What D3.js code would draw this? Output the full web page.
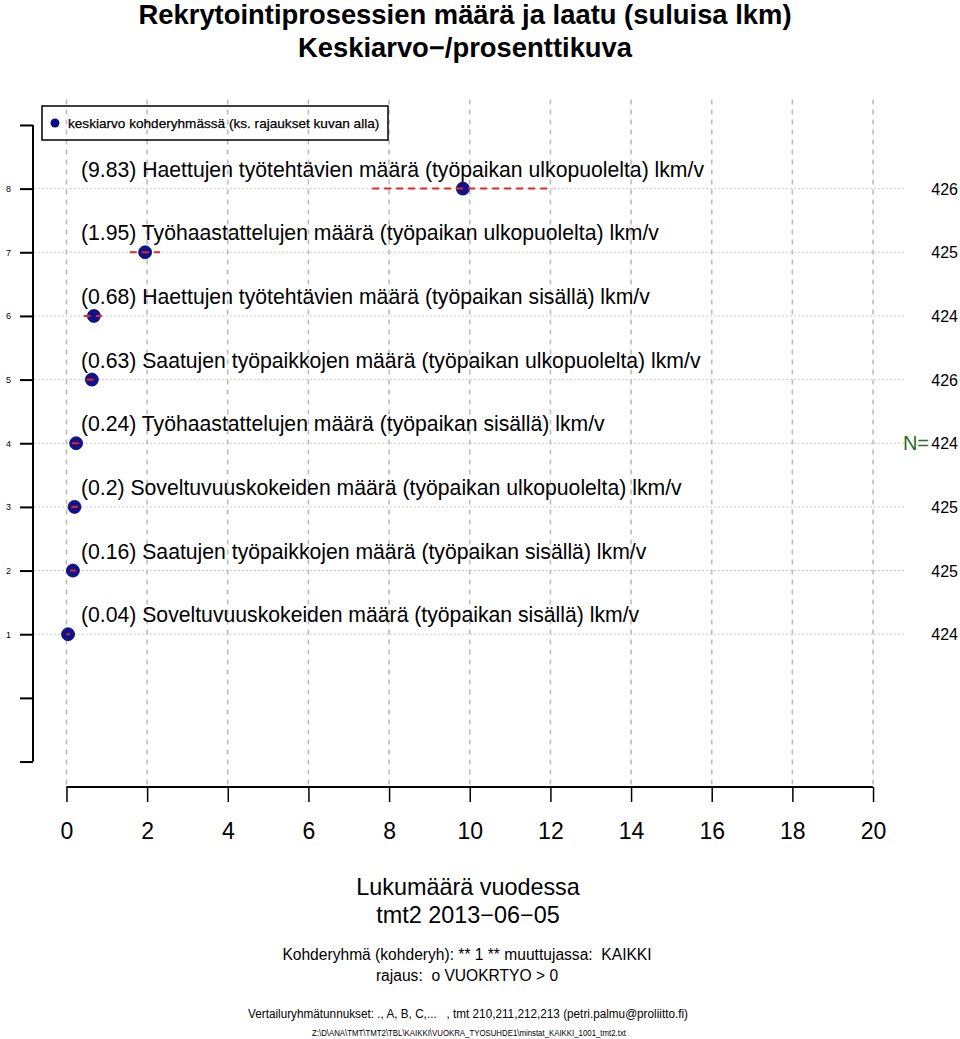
<!DOCTYPE html>
<html><head><meta charset="utf-8">
<script src="https://cdn.jsdelivr.net/npm/d3@7"></script>
<style>body{margin:0;background:#fff}svg{display:block;font-family:"Liberation Sans",Arial,sans-serif}</style>
</head><body><div id="chart"></div>
<script>
const labels = [
  "(9.83) Haettujen työtehtävien määrä (työpaikan ulkopuolelta) lkm/v",
  "(1.95) Työhaastattelujen määrä (työpaikan ulkopuolelta) lkm/v",
  "(0.68) Haettujen työtehtävien määrä (työpaikan sisällä) lkm/v",
  "(0.63) Saatujen työpaikkojen määrä (työpaikan ulkopuolelta) lkm/v",
  "(0.24) Työhaastattelujen määrä (työpaikan sisällä) lkm/v",
  "(0.2) Soveltuvuuskokeiden määrä (työpaikan ulkopuolelta) lkm/v",
  "(0.16) Saatujen työpaikkojen määrä (työpaikan sisällä) lkm/v",
  "(0.04) Soveltuvuuskokeiden määrä (työpaikan sisällä) lkm/v"
];
const rows = [8,7,6,5,4,3,2,1];
const means = [9.83,1.95,0.68,0.63,0.24,0.2,0.16,0.04];
const ciLo = [7.58,1.57,0.43,0.50,0.14,0.12,0.09,0.00];
const ciHi = [12.05,2.32,0.88,0.76,0.34,0.28,0.23,0.08];
const nValues = [426,425,424,426,424,425,425,424];
const xTicks = [0,2,4,6,8,10,12,14,16,18,20];
const yTicks = [-1,0,1,2,3,4,5,6,7,8,9];
const yTickLabels = ["","","1","2","3","4","5","6","7","8",""];
const titleLines = ["Rekrytointiprosessien määrä ja laatu (suluisa lkm)","Keskiarvo\u2212/prosenttikuva"];
const xTitleLines = ["Lukumäärä vuodessa","tmt2 2013\u221206\u221205"];
const infoLines = ["Kohderyhmä (kohderyh): ** 1 ** muuttujassa:  KAIKKI","rajaus:  o VUOKRTYO > 0"];
const footLine = "Vertailuryhmätunnukset: ., A, B, C,...   , tmt 210,211,212,213 (petri.palmu@proliitto.fi)";
const pathLine = "Z:\\D\\ANA\\TMT\\TMT2\\TBL\\KAIKKI\\VUOKRA_TYOSUHDE1\\minstat_KAIKKI_1001_tmt2.txt";
const legendText = "keskiarvo kohderyhmässä (ks. rajaukset kuvan alla)";

const W=960,H=1039;
const svg=d3.select("#chart").append("svg").attr("width",W).attr("height",H);
const x=d3.scaleLinear().domain([-0.8,20.8]).range([34.2,905.3]);
const y=d3.scaleLinear().domain([-1.4,9.4]).range([787,99.5]);

// vertical dashed grid
svg.append("g").selectAll("line").data(xTicks).join("line")
  .attr("x1",d=>x(d)).attr("x2",d=>x(d)).attr("y1",y(9.4)).attr("y2",y(-1.4))
  .attr("stroke","#bdbdbd").attr("stroke-width",1.6).attr("stroke-dasharray","5,5");
// horizontal dotted grid
svg.append("g").selectAll("line").data(rows).join("line")
  .attr("x1",x(-0.8)).attr("x2",x(20.8)).attr("y1",d=>y(d)).attr("y2",d=>y(d))
  .attr("stroke","#bbbbbb").attr("stroke-width",1).attr("stroke-dasharray","1.5,2.5");

// y axis
const ya=svg.append("g").attr("transform",`translate(${33},0)`)
  .call(d3.axisLeft(y).tickValues(yTicks).tickSize(13).tickFormat((d,i)=>yTickLabels[i]));
ya.select(".domain").attr("d",`M0,${y(-1)}V${y(9)}`).attr("stroke","#000").attr("stroke-width",2);
ya.selectAll(".tick line").attr("stroke","#000").attr("stroke-width",2);
ya.selectAll(".tick text").attr("x",-22).attr("font-size",9).attr("font-family","Liberation Sans, Arial").attr("fill","#000");

// x axis
const xa=svg.append("g").attr("transform",`translate(0,${787})`)
  .call(d3.axisBottom(x).tickValues(xTicks).tickSize(15).tickFormat(d3.format("d")));
xa.select(".domain").attr("d",`M${x(0)},0H${x(20)}`).attr("stroke","#000").attr("stroke-width",2);
xa.selectAll(".tick line").attr("stroke","#000").attr("stroke-width",1.5);
xa.selectAll(".tick text").attr("y",52).attr("dy",0).attr("font-size",23).attr("font-family","Liberation Sans, Arial").attr("fill","#000");

// legend
svg.append("rect").attr("x",42).attr("y",106).attr("width",346).attr("height",34)
  .attr("fill","none").attr("stroke","#000").attr("stroke-width",1.5);
svg.append("circle").attr("cx",55).attr("cy",123).attr("r",4.5).attr("fill","#0c0c88");
svg.append("text").attr("x",68).attr("y",128).attr("font-size",13.6).attr("fill","#000")
  .attr("stroke","#000").attr("stroke-width",0.25).text(legendText);

// row labels
svg.append("g").selectAll("text").data(labels).join("text")
  .attr("x",81).attr("y",(d,i)=>y(rows[i])-12).attr("font-size",21.2).attr("fill","#000").text(d=>d);

// points
svg.append("g").selectAll("circle").data(means).join("circle")
  .attr("cx",d=>x(d)).attr("cy",(d,i)=>y(rows[i])).attr("r",6.5)
  .attr("fill","#12128a").attr("stroke","#0a0a6a").attr("stroke-width",0.8);
// error bars
svg.append("g").selectAll("line").data(means).join("line")
  .attr("x1",(d,i)=>x(ciLo[i])).attr("x2",(d,i)=>x(ciHi[i]))
  .attr("y1",(d,i)=>y(rows[i])).attr("y2",(d,i)=>y(rows[i]))
  .attr("stroke","#dd2b2b").attr("stroke-width",2).attr("stroke-dasharray","7,5");

// N values
svg.append("g").selectAll("text").data(nValues).join("text")
  .attr("x",958).attr("y",(d,i)=>y(rows[i])+6).attr("text-anchor","end")
  .attr("font-size",16).attr("fill","#000").text(d=>d);
svg.append("text").attr("x",929).attr("y",y(4)+7).attr("text-anchor","end")
  .attr("font-size",20).attr("fill","#2b6e22").text("N=");

// titles
svg.append("g").selectAll("text").data(titleLines).join("text")
  .attr("x",465).attr("y",(d,i)=>24+i*33).attr("text-anchor","middle")
  .attr("font-size",27.4).attr("font-weight","bold").attr("fill","#000").text(d=>d);
svg.append("g").selectAll("text").data(xTitleLines).join("text")
  .attr("x",468).attr("y",(d,i)=>895+i*28).attr("text-anchor","middle")
  .attr("font-size",23.4).attr("fill","#000").text(d=>d);
svg.append("g").selectAll("text").data(infoLines).join("text")
  .attr("x",467).attr("y",(d,i)=>960+i*21).attr("text-anchor","middle").style("white-space","pre")
  .attr("font-size",15.6).attr("fill","#000").text(d=>d);
svg.append("text").attr("x",468).attr("y",1018).attr("text-anchor","middle").style("white-space","pre")
  .attr("font-size",12.5).attr("fill","#000").attr("textLength",440).attr("lengthAdjust","spacingAndGlyphs").text(footLine);
svg.append("text").attr("x",469).attr("y",1036).attr("text-anchor","middle")
  .attr("font-size",8.5).attr("fill","#000").attr("textLength",314).attr("lengthAdjust","spacingAndGlyphs").text(pathLine);
</script></body></html>
